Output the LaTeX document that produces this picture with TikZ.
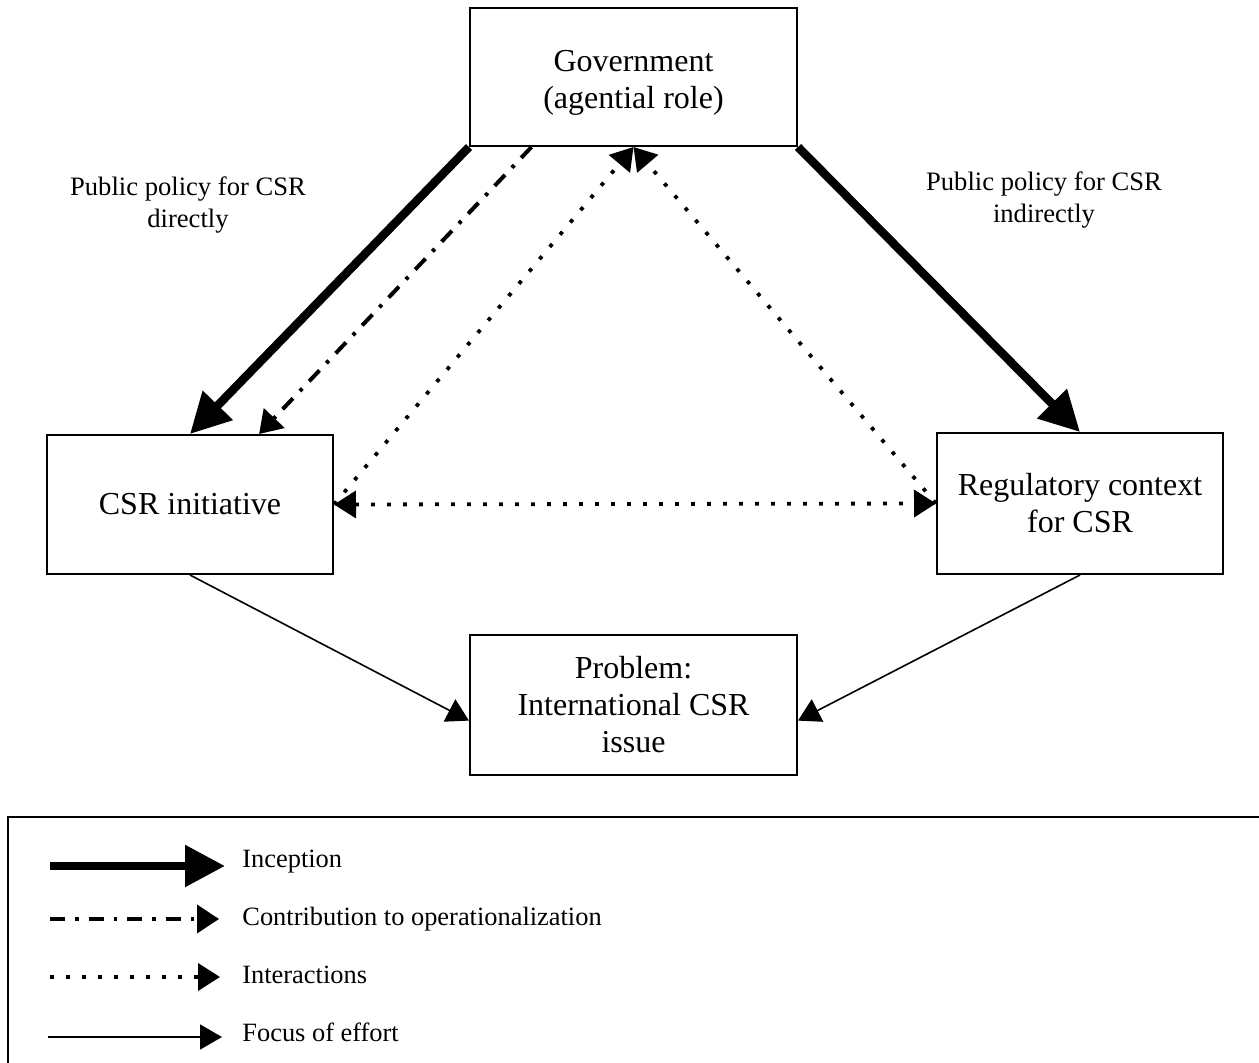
\documentclass[tikz,border=0pt]{standalone}
\usepackage{fontspec}
\setmainfont{Liberation Serif}
\usetikzlibrary{arrows.meta,calc}
\begin{document}
\begin{tikzpicture}[x=0.5pt,y=-0.5pt,
 box/.style={draw,line width=1pt,inner sep=0pt,align=center,font=\fontsize{16}{18.5}\selectfont},
 boxtext/.style={inner sep=0pt,align=center,font=\fontsize{16}{18.5}\selectfont},
 lbl/.style={align=center,font=\fontsize{13.3}{16}\selectfont,inner sep=0pt},
 legtxt/.style={anchor=west,font=\fontsize{13.2}{15}\selectfont,inner sep=0pt},
 inception/.style={line width=4.25pt,-{Triangle[length=20pt,width=20pt]}},
 contrib/.style={line width=2pt,dash pattern=on 7.5pt off 5pt on 1.75pt off 5pt,-{Triangle[length=11pt,width=14pt]}},
 dotline/.style={line width=1.9pt,dash pattern=on 1.9pt off 6.1pt},
 dottip/.style={-{Triangle[length=11pt,width=13.5pt]}},
 focus/.style={line width=0.8pt,-{Triangle[length=11pt,width=12.5pt]}},
]
\useasboundingbox (0,0) rectangle (1259,1063);

% boxes
\node[box,minimum width=163.5pt,minimum height=69pt] (gov) at (633.5,77) {};
\node[boxtext] (govt) at (633.5,83) {Government\\(agential role)};
\node[box,minimum width=143pt,minimum height=69.5pt] (csr) at (190,504.5) {CSR initiative};
\node[box,minimum width=143pt,minimum height=70.5pt] (reg) at (1080,503.5) {Regulatory context\\for CSR};
\node[box,minimum width=163.5pt,minimum height=70pt] (prob) at (633.5,705) {Problem:\\International CSR\\issue};

% labels
\node[lbl] (ldir) at (188,205) {Public policy for CSR\\directly};
\node[lbl] (lind) at (1044,200) {Public policy for CSR\\indirectly};

% connectors
\draw[inception] (gov.south west) -- (csr.north);
\draw[inception] (gov.south east) -- (reg.north);
\draw[contrib] ($(gov.south west)!0.19!(gov.south east)$) -- ($(csr.north west)!0.74!(csr.north east)$);
\draw[dotline,dottip] (csr.east) -- (gov.south);
\draw[dotline,dottip] (reg.west) -- (gov.south);
\draw[dotline,{Triangle[length=11pt,width=13.5pt]}-{Triangle[length=11pt,width=13.5pt]}] (csr.east) -- (reg.west);
\draw[focus] (csr.south) -- ($(prob.north west)!0.61!(prob.south west)$);
\draw[focus] (reg.south) -- ($(prob.north east)!0.61!(prob.south east)$);

% legend
\node[draw,line width=1pt,minimum width=700pt,minimum height=160pt,anchor=north west,inner sep=0pt] (legend) at (7,816) {};
\coordinate (i1) at (50,866); \coordinate (i2) at (225,866);
\node[legtxt] (ti) at (242,862) {Inception};
\draw[inception] (i1) -- (i2);
\coordinate (c1) at (50,919); \coordinate (c2) at (219,919);
\node[legtxt] (tc) at (242,919) {Contribution to operationalization};
\draw[contrib] (c1) -- (c2);
\coordinate (d1) at (50,977); \coordinate (d2) at (220,977);
\node[legtxt] (td) at (242,975) {Interactions};
\draw[dotline,dottip] (d1) -- (d2);
\coordinate (f1) at (48,1037); \coordinate (f2) at (222,1037);
\node[legtxt] (tf) at (242,1032) {Focus of effort};
\draw[focus] (f1) -- (f2);
\end{tikzpicture}
\end{document}
